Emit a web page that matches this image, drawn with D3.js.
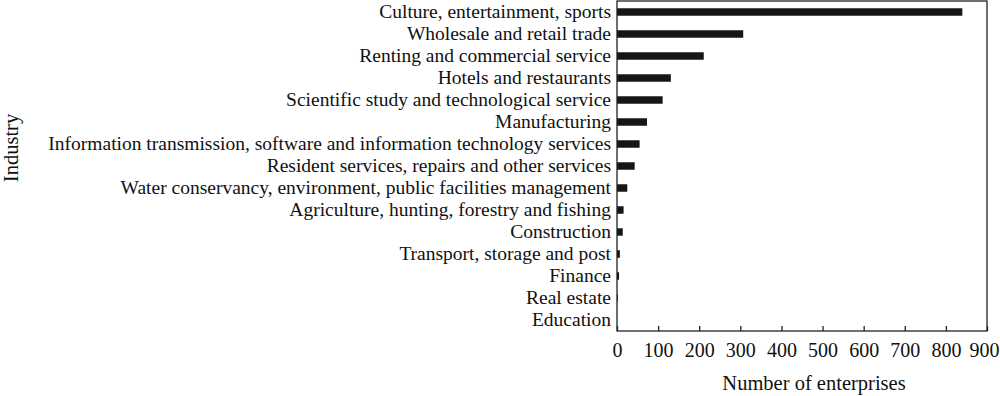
<!DOCTYPE html>
<html>
<head>
<meta charset="utf-8">
<script src="https://cdn.jsdelivr.net/npm/d3@7"></script>
<style>
  body { margin: 0; background: #fff; }
  svg text { font-family: "Liberation Serif", "Times New Roman", serif; fill: #111; }
</style>
</head>
<body>
<svg id="chart" width="1000" height="396"></svg>
<script>
// industries, top to bottom
var industries = [
    "Culture, entertainment, sports",
    "Wholesale and retail trade",
    "Renting and commercial service",
    "Hotels and restaurants",
    "Scientific study and technological service",
    "Manufacturing",
    "Information transmission, software and information technology services",
    "Resident services, repairs and other services",
    "Water conservancy, environment, public facilities management",
    "Agriculture, hunting, forestry and fishing",
    "Construction",
    "Transport, storage and post",
    "Finance",
    "Real estate",
    "Education"
];
var enterprises = [840, 307, 211, 131, 111, 73, 55, 43, 25, 16, 14, 7, 5, 2, 0];
var xTicks = [0, 100, 200, 300, 400, 500, 600, 700, 800, 900];

var svg = d3.select("#chart");
var plotLeft = 617, plotRight = 987, plotTop = 1, plotBottom = 331;

var x = d3.scaleLinear().domain([0, 900]).range([plotLeft, plotRight]);
var y = d3.scaleBand().domain(industries).range([plotTop, plotBottom]).paddingInner(0.66).paddingOuter(0.33);

var rows = industries.map(function(d, i) { return {name: d, value: enterprises[i]}; });

// bars
svg.append("g").selectAll("rect")
    .data(rows)
    .enter().append("rect")
    .attr("x", x(0))
    .attr("y", function(d) { return y(d.name); })
    .attr("width", function(d) { return x(d.value) - x(0); })
    .attr("height", y.bandwidth())
    .attr("fill", "#161616");

// frame
svg.append("rect")
    .attr("x", plotLeft).attr("y", plotTop)
    .attr("width", plotRight - plotLeft).attr("height", plotBottom - plotTop)
    .attr("fill", "none").attr("stroke", "#222").attr("stroke-width", 1.3);

// x axis, ticks point inward
var xAxis = svg.append("g")
    .attr("transform", "translate(0," + plotBottom + ")")
    .call(d3.axisBottom(x).tickValues(xTicks).tickSizeInner(-5).tickSizeOuter(0).tickPadding(12));
xAxis.select(".domain").remove();
xAxis.selectAll("line").attr("stroke", "#222").attr("stroke-width", 1.3);
xAxis.selectAll("text").style("font-size", "20px").attr("fill", "#111")
    .attr("dx", function(d) { return d === 900 ? -3 : 0; });

// y axis labels
var yAxis = svg.append("g")
    .attr("transform", "translate(" + plotLeft + ",0)")
    .call(d3.axisLeft(y).tickSize(0).tickPadding(6));
yAxis.select(".domain").remove();
yAxis.selectAll("text").style("font-size", "19.5px").attr("fill", "#111");

// titles
svg.append("text")
    .attr("x", 814).attr("y", 390)
    .attr("text-anchor", "middle")
    .style("font-size", "20.5px")
    .text("Number of enterprises");

svg.append("text")
    .attr("transform", "translate(18,148) rotate(-90)")
    .attr("text-anchor", "middle")
    .style("font-size", "20.5px")
    .text("Industry");
</script>
</body>
</html>
